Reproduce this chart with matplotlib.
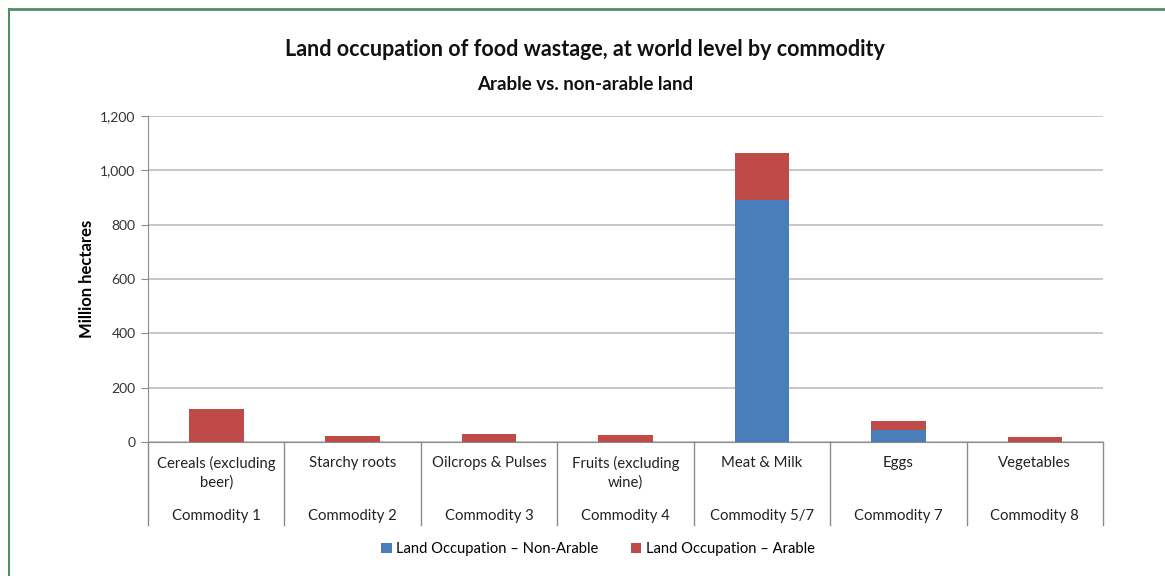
import matplotlib.pyplot as plt
import numpy as np
from matplotlib.lines import Line2D
from matplotlib.ticker import FuncFormatter

plt.rcParams["font.family"] = ["Lato", "DejaVu Sans"]

# Data
categories = ["Cereals (excluding\nbeer)", "Starchy roots", "Oilcrops & Pulses",
              "Fruits (excluding\nwine)", "Meat & Milk", "Eggs", "Vegetables"]
commodities = ["Commodity 1", "Commodity 2", "Commodity 3", "Commodity 4",
               "Commodity 5/7", "Commodity 7", "Commodity 8"]
non_arable = [0, 0, 0, 0, 890, 43, 0]
arable = [122, 22, 30, 25, 172, 35, 20]

BLUE = "#4A7EBB"
RED = "#BE4B48"
GRID = "#BDBDBD"

W, H = 1165, 576
fig = plt.figure(figsize=(W / 100, H / 100), dpi=100)
ax = fig.add_axes([148 / W, 1 - 442 / H, (1103 - 148) / W, (442 - 116) / H])

x = np.arange(len(categories))
ax.bar(x, non_arable, width=0.4, color=BLUE, label="Land Occupation \u2013 Non-Arable", zorder=3)
ax.bar(x, arable, width=0.4, bottom=non_arable, color=RED,
       label="Land Occupation \u2013 Arable", zorder=3)

ax.set_xlim(-0.5, len(categories) - 0.5)
ax.set_ylim(0, 1200)
ax.set_yticks(np.arange(0, 1201, 200))
ax.yaxis.set_major_formatter(FuncFormatter(lambda v, p: f"{int(v):,}"))
ax.yaxis.grid(True, color=GRID, linewidth=1.2, zorder=0)
ax.tick_params(axis="y", length=5, color="#8C8C8C", labelsize=10, labelcolor="#333333", pad=4)
ax.tick_params(axis="x", length=0, labelbottom=False)
for s in ["top", "right"]:
    ax.spines[s].set_visible(False)
ax.spines["left"].set_color("#8C8C8C")
ax.spines["bottom"].set_color("#8C8C8C")

ax.set_ylabel("Million hectares", fontsize=12, fontweight="bold", labelpad=4)

# Two-level category axis
trans = ax.get_xaxis_transform()
for i in range(len(categories) + 1):
    ax.add_line(Line2D([i - 0.5, i - 0.5], [0, -83 / 326], transform=trans,
                       color="#8C8C8C", linewidth=1, clip_on=False))
for i, (cat, com) in enumerate(zip(categories, commodities)):
    ax.text(i, -14 / 326, cat, transform=trans, ha="center", va="top",
            fontsize=10.7, color="#222222", linespacing=1.35)
    ax.text(i, -74 / 326, com, transform=trans, ha="center", va="center",
            fontsize=10.7, color="#222222")

fig.text(585 / W, 1 - 50 / H, "Land occupation of food wastage, at world level by commodity",
         ha="center", va="center", fontsize=15.5, fontweight="bold", color="#111111")
fig.text(585 / W, 1 - 84 / H, "Arable vs. non-arable land",
         ha="center", va="center", fontsize=13.5, fontweight="bold", color="#111111")

fig.legend(loc="center", bbox_to_anchor=(598 / W, 1 - 549 / H), ncol=2, frameon=False,
           fontsize=10.6, handlelength=0.7, handleheight=0.7, handletextpad=0.3,
           columnspacing=2.2)

# Green frame (top and left edges)
fig.add_artist(Line2D([9 / W, 1], [1 - 9 / H, 1 - 9 / H], transform=fig.transFigure,
                      color="#4E8E6A", linewidth=2))
fig.add_artist(Line2D([9 / W, 9 / W], [0, 1 - 9 / H], transform=fig.transFigure,
                      color="#4E8E6A", linewidth=1.5))

fig.savefig("out.png", dpi=100)
